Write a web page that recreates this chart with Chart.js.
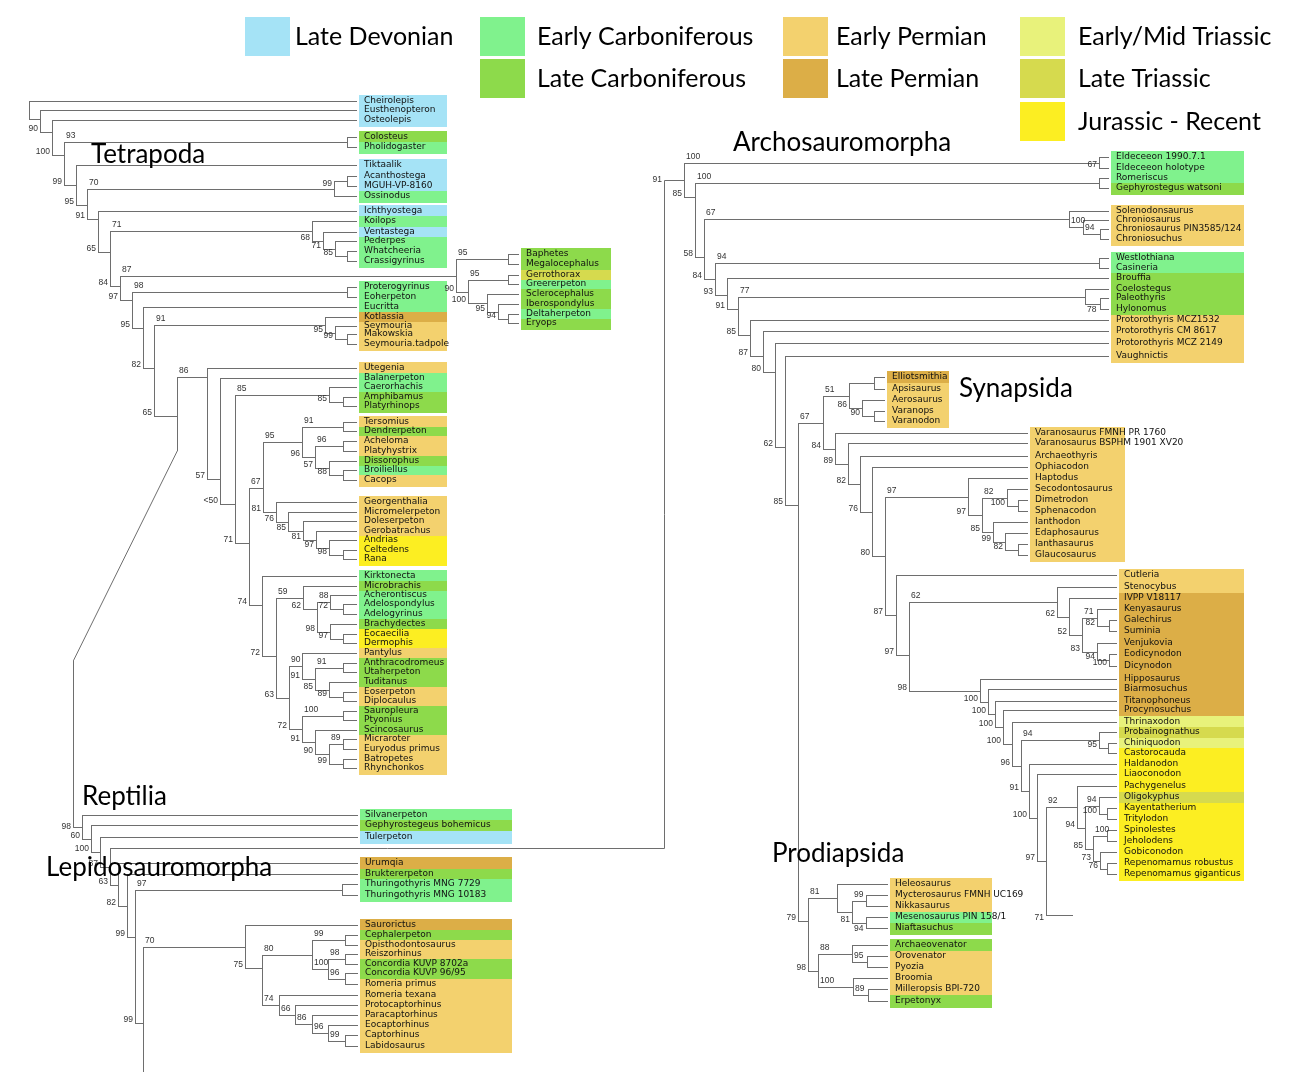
<!DOCTYPE html>
<html><head><meta charset="utf-8">
<script src="https://cdn.jsdelivr.net/npm/chart.js@4.4.1/dist/chart.umd.min.js"></script>
<style>html,body{margin:0;padding:0;background:#fff;overflow:hidden}#wrap{position:relative;width:1296px;height:1072px}</style>
</head><body><div id="wrap"><canvas id="c"></canvas></div>
<script>
// ---------- categories (geological periods) ----------
const PERIOD_KEYS = ['LD','EC','LC','EP','LP','EMT','LT','JR'];
const PERIOD_NAMES = ['Late Devonian','Early Carboniferous','Late Carboniferous','Early Permian','Late Permian','Early/Mid Triassic','Late Triassic','Jurassic - Recent'];
const PERIOD_COLORS = ['#a5e3f6','#80f28d','#8dda4b','#f3d16e','#dcae47','#e8f27b','#d6da4e','#fcee22'];

// ---------- taxa: [name, period, row] ----------
const LEFT_TAXA = [
['Cheirolepis','LD',101],['Eusthenopteron','LD',110],['Osteolepis','LD',120],
['Colosteus','LC',137],['Pholidogaster','EC',147],
['Tiktaalik','LD',165],['Acanthostega','LD',176],['MGUH-VP-8160','LD',186],['Ossinodus','EC',196],
['Ichthyostega','LD',211],['Koilops','EC',221],['Ventastega','LD',232],['Pederpes','EC',241],['Whatcheeria','EC',251],['Crassigyrinus','EC',261],
['Proterogyrinus','EC',287],['Eoherpeton','EC',297],['Eucritta','EC',307],['Kotlassia','LP',317],['Seymouria','EP',326],['Makowskia','EP',334],['Seymouria.tadpole','EP',344],
['Utegenia','EP',368],['Balanerpeton','EC',378],['Caerorhachis','EC',387],['Amphibamus','LC',397],['Platyrhinops','LC',406],
['Tersomius','EP',422],['Dendrerpeton','LC',431],['Acheloma','EP',441],['Platyhystrix','EP',451],['Dissorophus','LC',461],['Broiliellus','EC',470],['Cacops','EP',480],
['Georgenthalia','EP',502],['Micromelerpeton','EP',512],['Doleserpeton','EP',521],['Gerobatrachus','EP',531],['Andrias','JR',540],['Celtedens','JR',550],['Rana','JR',559],
['Kirktonecta','EC',576],['Microbrachis','LC',586],['Acherontiscus','EC',595],['Adelospondylus','EC',604],['Adelogyrinus','EC',614],['Brachydectes','LC',624],['Eocaecilia','JR',634],['Dermophis','JR',643],
['Pantylus','EP',653],['Anthracodromeus','LC',663],['Utaherpeton','LC',672],['Tuditanus','LC',682],['Eoserpeton','EP',692],['Diplocaulus','EP',701],
['Sauropleura','LC',711],['Ptyonius','LC',720],['Scincosaurus','LC',730],['Micraroter','EP',739],['Euryodus primus','EP',749],['Batropetes','EP',759],['Rhynchonkos','EP',768]
];
const BAPH_TAXA = [['Baphetes','LC',254],['Megalocephalus','LC',264],['Gerrothorax','LT',275],['Greererpeton','EC',284],['Sclerocephalus','LC',294],['Iberospondylus','LC',304],['Deltaherpeton','EC',314],['Eryops','LC',323]];
const LEPI_TAXA = [
['Silvanerpeton','EC',815],['Gephyrostegeus bohemicus','LC',825],['Tulerpeton','LD',837],
['Urumqia','LP',863],['Bruktererpeton','LC',874],['Thuringothyris MNG 7729','EC',884],['Thuringothyris MNG 10183','EC',895],
['Saurorictus','LP',925],['Cephalerpeton','LC',935],['Opisthodontosaurus','EP',945],['Reiszorhinus','EP',954],['Concordia KUVP 8702a','LC',964],['Concordia KUVP 96/95','LC',973],['Romeria primus','EP',984],['Romeria texana','EP',995],['Protocaptorhinus','EP',1005],['Paracaptorhinus','EP',1015],['Eocaptorhinus','EP',1025],['Captorhinus','EP',1035],['Labidosaurus','EP',1046]
];
const ARCHO_TAXA = [
['Eldeceeon 1990.7.1','EC',157],['Eldeceeon holotype','EC',168],['Romeriscus','EC',178],['Gephyrostegus watsoni','LC',188],
['Solenodonsaurus','EP',211],['Chroniosaurus','EP',220],['Chroniosaurus PIN3585/124','EP',229],['Chroniosuchus','EP',239],
['Westlothiana','EC',258],['Casineria','EC',268],['Brouffia','LC',278],['Coelostegus','LC',289],['Paleothyris','LC',298],['Hylonomus','LC',309],['Protorothyris MCZ1532','EP',320],['Protorothyris CM 8617','EP',331],['Protorothyris MCZ 2149','EP',343],['Vaughnictis','EP',356]
];
const VARAN_TAXA = [['Elliotsmithia','LP',377],['Apsisaurus','EP',389],['Aerosaurus','EP',400],['Varanops','EP',411],['Varanodon','EP',421]];
const OPHI_TAXA = [['Varanosaurus FMNH PR 1760','EP',433],['Varanosaurus BSPHM 1901 XV20','EP',443],['Archaeothyris','EP',456],['Ophiacodon','EP',467],['Haptodus','EP',478],['Secodontosaurus','EP',489],['Dimetrodon','EP',500],['Sphenacodon','EP',511],['Ianthodon','EP',522],['Edaphosaurus','EP',533],['Ianthasaurus','EP',544],['Glaucosaurus','EP',555]];
const THER_TAXA = [
['Cutleria','EP',575],['Stenocybus','EP',587],['IVPP V18117','LP',598],['Kenyasaurus','LP',609],['Galechirus','LP',620],['Suminia','LP',631],['Venjukovia','LP',643],['Eodicynodon','LP',654],['Dicynodon','LP',666],
['Hipposaurus','LP',679],['Biarmosuchus','LP',689],['Titanophoneus','LP',701],['Procynosuchus','LP',710],['Thrinaxodon','EMT',722],['Probainognathus','LT',732],['Chiniquodon','EMT',743],['Castorocauda','JR',753],
['Haldanodon','JR',764],['Liaoconodon','JR',774],['Pachygenelus','JR',786],['Oligokyphus','LT',797],['Kayentatherium','JR',808],['Tritylodon','JR',819],['Spinolestes','JR',830],['Jeholodens','JR',841],['Gobiconodon','JR',852],['Repenomamus robustus','JR',863],['Repenomamus giganticus','JR',874]
];
const PROD_TAXA = [['Heleosaurus','EP',884],['Mycterosaurus FMNH UC169','EP',895],['Nikkasaurus','EP',906],['Mesenosaurus PIN 158/1','EC',917],['Niaftasuchus','LC',928],['Archaeovenator','LC',945],['Orovenator','EP',956],['Pyozia','EP',967],['Broomia','EP',978],['Milleropsis BPI-720','EP',989],['Erpetonyx','LC',1001]];
const BARE_TIPS = [['unnamed tip',915],['cut-off clade',1090]];

// ---------- clade titles ----------
const CLADE_TITLES = ['Tetrapoda','Archosauromorpha','Synapsida','Reptilia','Lepidosauromorpha','Prodiapsida'];

// ---------- tree (node depth, support labels, children) ----------
function n(x, lab, ...c){ return {x, lab, c}; }
function ny(x, y, lab, ...c){ return {x, y, lab, c}; }
function via(node, at, bends){ node.at = at; node.bends = bends; return node; }

const KOIL = n(312,'b71 l68','Koilops', n(323,'l71','Ventastega', n(335,'l85','Pederpes', n(347,'','Whatcheeria','Crassigyrinus'))));
const BAPH = n(456,'b87 l90', n(508,'b95','Baphetes','Megalocephalus'), n(468,'l100', n(508,'b95','Gerrothorax','Greererpeton'), n(487,'l95','Sclerocephalus', n(498,'l94','Iberospondylus', n(508,'','Deltaherpeton','Eryops')))));
const KOTL = n(325,'b91 l95','Kotlassia', n(335,'l99','Seymouria', n(347,'','Makowskia','Seymouria.tadpole')));
const DISS = n(302,'b95 l96', n(343,'b91','Tersomius','Dendrerpeton'), n(315,'l57', n(343,'b96','Acheloma','Platyhystrix'), n(329,'l88','Dissorophus', n(343,'','Broiliellus','Cacops'))));
const LISS = n(276,'l76','Georgenthalia', n(288,'l85','Micromelerpeton', n(303,'l81','Doleserpeton', n(316,'l97','Gerobatrachus', n(329,'l98','Andrias', n(343,'','Celtedens','Rana'))))));
const MICRO = n(303,'b59 l62','Microbrachis', ny(317,609,'l98', n(330,'b88 l72','Acherontiscus', n(343,'','Adelospondylus','Adelogyrinus')), n(330,'l97','Brachydectes', n(343,'','Eocaecilia','Dermophis'))));
const RECUM = n(289,'l72',
  n(302,'b90 l91','Pantylus', n(315,'l85', n(343,'b91','Anthracodromeus','Utaherpeton'), n(329,'l89','Tuditanus', n(343,'','Eoserpeton','Diplocaulus')))),
  n(302,'l91', n(343,'b100','Sauropleura','Ptyonius'), n(315,'l90','Scincosaurus', n(329,'l99', n(343,'b89','Micraroter','Euryodus primus'), n(343,'','Batropetes','Rhynchonkos')))));
const LEPO = ny(262,605,'l72','Kirktonecta', ny(276,656,'l63', MICRO, RECUM));
const TEMNO = ny(207,377,'b86 l57','Utegenia',
  ny(220,479,'l<50','Balanerpeton',
   ny(235,504,'l71', n(329,'b85 l85','Caerorhachis', n(343,'','Amphibamus','Platyrhinops')),
    ny(249,543,'l74', ny(263,488,'b67 l81', DISS, LISS), LEPO))));
const CAPT = n(245,'b70 l75','Saurorictus',
  ny(262,968,'',
   n(312,'b80', n(345,'b99','Cephalerpeton','Opisthodontosaurus'),
     n(328,'b100', n(345,'b98','Reiszorhinus','Concordia KUVP 8702a'), n(345,'b96','Concordia KUVP 96/95','Romeria primus'))),
   n(279,'b74','Romeria texana', n(295,'b66','Protocaptorhinus', n(312,'b86','Paracaptorhinus', n(328,'b96','Eocaptorhinus', n(345,'b99','Captorhinus','Labidosaurus')))))));
const TH1 = n(1057,'b62 l62','Stenocybus', n(1069,'l52','IVPP V18117', n(1082,'l83', n(1097,'b71 l82','Kenyasaurus', n(1109,'','Galechirus','Suminia')), n(1097,'l94','Venjukovia', n(1109,'l100','Eodicynodon','Dicynodon')))));
const MAMM = n(1046,'', n(1077,'b92 l94','Pachygenelus', n(1085,'l85', n(1099,'b94 l100','Oligokyphus', n(1107,'','Kayentatherium','Tritylodon')), n(1093,'l73', n(1107,'b100','Spinolestes','Jeholodens'), n(1100,'l76','Gobiconodon', n(1107,'','Repenomamus robustus','Repenomamus giganticus'))))), {leaf:'unnamed tip', lab:'k71'});
const TH2 = n(980,'l100','Hipposaurus', n(988,'l100','Biarmosuchus', n(995,'l100','Titanophoneus', n(1003,'l100','Procynosuchus', n(1012,'l96','Thrinaxodon', n(1021,'l91', n(1099,'b94 l95','Probainognathus', n(1108,'','Chiniquodon','Castorocauda')), n(1029,'l100','Haldanodon', n(1037,'l97','Liaoconodon', MAMM))))))));
const SPHEN = n(968,'b97 l97','Haptodus', n(982,'l85', n(1007,'b82 l100','Secodontosaurus', n(1018,'','Dimetrodon','Sphenacodon')), n(993,'l99','Ianthodon', n(1005,'l82','Edaphosaurus', n(1018,'','Ianthasaurus','Glaucosaurus')))));
const SYN = n(823,'b67 l84',
  n(849,'b51 l86', n(874,'','Elliotsmithia','Apsisaurus'), n(862,'l90','Aerosaurus', n(874,'','Varanops','Varanodon'))),
  n(835,'l89','Varanosaurus FMNH PR 1760', n(848,'l82','Varanosaurus BSPHM 1901 XV20', n(860,'l76','Archaeothyris', n(872,'l80','Ophiacodon', n(885,'l87', SPHEN, n(896,'l97','Cutleria', ny(909,655,'l98', TH1, TH2))))))));
const PROD = ny(808,921,'l98',
  n(837,'b81','Heleosaurus', n(852,'l81', n(866,'b99','Mycterosaurus FMNH UC169','Nikkasaurus'), n(866,'u94','Mesenosaurus PIN 158/1','Niaftasuchus'))),
  n(818,'', n(852,'b88','Archaeovenator', n(867,'b95','Orovenator','Pyozia')), n(853,'b100','Broomia', n(868,'b89','Milleropsis BPI-720','Erpetonyx'))));
const ARCHO = via(
  ny(684,180,'v91 l85', n(1099,'b100 l67','Eldeceeon 1990.7.1','Eldeceeon holotype'),
   ny(695,197,'l58', n(1099,'b100','Romeriscus','Gephyrostegus watsoni'),
    ny(704,257,'l84', n(1069,'b67','Solenodonsaurus', n(1083,'b100','Chroniosaurus', n(1100,'b94','Chroniosaurus PIN3585/124','Chroniosuchus'))),
     ny(715,279,'l93', n(1099,'b94','Westlothiana','Casineria'),
      ny(727,295,'l91','Brouffia',
       ny(738,309,'l85', n(1085,'b77','Coelostegus', n(1100,'u78','Paleothyris','Hylonomus')),
        ny(750,335,'l87','Protorothyris MCZ1532',
         ny(763,356,'l80','Protorothyris CM 8617',
          ny(775,372,'l62','Protorothyris MCZ 2149',
           ny(785,447,'l85','Vaughnictis',
            ny(798,505,'l79', SYN, PROD))))))))))),
  848, [[664,848]]);
const AMNIOTA = via(
  n(82,'l60 v98','Silvanerpeton',
   n(91,'l100','Gephyrostegeus bohemicus',
    n(100,'l87','Tulerpeton',
     n(110,'l63', ARCHO,
      n(118,'l82','Urumqia',
       n(127,'l99','Bruktererpeton',
        ny(135,937,'l99', n(342,'b97','Thuringothyris MNG 7729','Thuringothyris MNG 10183'),
         ny(143,1023,'', CAPT, 'cut-off clade')))))))),
  450, [[73,660]]);
const LEFT_TREE = n(29,'','Cheirolepis',
  ny(40,119,'l90','Eusthenopteron',
   ny(52,132,'l100','Osteolepis',
    ny(64,155,'l99', n(347,'b93','Colosteus','Pholidogaster'),
     ny(76,185,'l95','Tiktaalik',
      ny(87,205,'l91', n(334,'b70', n(347,'k99','Acanthostega','MGUH-VP-8160'), 'Ossinodus'),
       ny(98,219,'l65','Ichthyostega',
        ny(110,252,'l84', KOIL,
         ny(120,286,'l97', BAPH,
          ny(132,300,'l95', n(347,'b98','Proterogyrinus','Eoherpeton'),
           ny(143,328,'l82','Eucritta',
            ny(154,368,'l65', KOTL,
             ny(177,416,'', TEMNO, AMNIOTA)))))))))))));

// ---------- layout (positions/styles, not data) ----------
const GROUP_LAYOUT = {
  left:{box:[359,447]}, baph:{box:[521,611]}, lepi:{box:[360,512]}, archo:{box:[1111,1244]},
  varan:{box:[887,949]}, ophi:{box:[1030,1125]}, ther:{box:[1119,1244]}, prod:{box:[890,992]}, bare:{tip:1072}
};
const TITLE_LAYOUT = {Tetrapoda:[91,163], Archosauromorpha:[733,151], Synapsida:[959,397], Reptilia:[82,805], Lepidosauromorpha:[46,876], Prodiapsida:[772,862]};
const LEGEND_LAYOUT = {cols:[245,480,783,1020], rows:[17,59,102], textDx:[50,57,53,58], w:45, h:39,
  slot:{LD:[0,0],EC:[1,0],LC:[1,1],EP:[2,0],LP:[2,1],EMT:[3,0],LT:[3,1],JR:[3,2]}};

// ---------- build ----------
const GROUPS = {left:LEFT_TAXA, baph:BAPH_TAXA, lepi:LEPI_TAXA, archo:ARCHO_TAXA, varan:VARAN_TAXA, ophi:OPHI_TAXA, ther:THER_TAXA, prod:PROD_TAXA};
const TAXA = {};
Object.entries(GROUPS).forEach(([g,arr]) => arr.forEach(([name,p,y]) => TAXA[name] = {name,p,y,g}));
BARE_TIPS.forEach(([name,y]) => TAXA[name] = {name,p:null,y,g:'bare',hidden:true});
const COLOR = {}; PERIOD_KEYS.forEach((k,i) => COLOR[k] = PERIOD_COLORS[i]);

const isLeaf = c => typeof c === 'string' || c.leaf !== undefined;
const leafName = c => typeof c === 'string' ? c : c.leaf;
function Y(c){ if (isLeaf(c)) return TAXA[leafName(c)].y; if (c.y == null) c.y = Math.round((att(c.c[0]) + att(c.c[c.c.length-1]))/2); return c.y; }
function att(c){ return (!isLeaf(c) && c.at != null) ? c.at : Y(c); }
function tipX(t){ const L = GROUP_LAYOUT[t.g]; return L.tip != null ? L.tip : L.box[0]-3; }

const SEGS = [], LABELS = [];
function addLabels(lab, node, parent){
  if (!lab) return;
  lab.split(' ').forEach(tok => {
    const m = tok[0], txt = tok.slice(1); const yy = Y(node); let x, y, align;
    if (m === 'l'){ x = node.x-2; y = att(node.c[node.c.length-1])-3; align='right'; }
    else if (m === 'b'){ x = parent.x+2; y = yy-6; align='left'; }
    else if (m === 'u'){ x = parent.x+2; y = yy+6; align='left'; }
    else if (m === 'k'){ x = parent.x-2; y = yy+3; align='right'; }
    else if (m === 'v'){ const b = node.bends[node.bends.length-1]; x = b[0]-2; y = yy; align='right'; }
    LABELS.push({txt,x,y,align});
  });
}
function walk(node, parent){
  addLabels(node.lab, node, parent);
  const ys = node.c.map(att);
  SEGS.push([[node.x, ys[0]],[node.x, ys[ys.length-1]]]);
  node.c.forEach(ch => {
    if (isLeaf(ch)){ const t = TAXA[leafName(ch)]; SEGS.push([[node.x,t.y],[tipX(t),t.y]]); if (ch.lab) addLabels(ch.lab, ch, node); }
    else {
      const yy = Y(ch); let pts;
      if (ch.at != null){ pts = [[node.x, ch.at], ...ch.bends]; const lb = ch.bends[ch.bends.length-1]; pts.push([lb[0], yy],[ch.x, yy]); }
      else pts = [[node.x, yy],[ch.x, yy]];
      SEGS.push(pts); walk(ch, node);
    }
  });
}
walk(LEFT_TREE, null);
const edgeData = [];
SEGS.forEach(s => { s.forEach(([x,y]) => edgeData.push({x,y})); edgeData.push({x:NaN,y:NaN}); });

// ---------- drawing plugin ----------
const treePlugin = {
  id:'tree',
  beforeDatasetsDraw(chart){
    const ctx = chart.ctx, sx = chart.scales.x, sy = chart.scales.y;
    Object.entries(GROUPS).forEach(([g, rows]) => {
      const L = GROUP_LAYOUT[g];
      const s = rows.slice().sort((a,b) => a[2]-b[2]);
      s.forEach((r,i) => {
        const y = r[2], pv = s[i-1], nx = s[i+1];
        const top = pv && y-pv[2] < 14.5 ? (y+pv[2])/2 : y-6.5;
        const bot = nx && nx[2]-y < 14.5 ? (y+nx[2])/2 : y+6.5;
        const x0 = Math.round(sx.getPixelForValue(L.box[0])), x1 = Math.round(sx.getPixelForValue(L.box[1]));
        const y0 = Math.round(sy.getPixelForValue(top)), y1 = Math.round(sy.getPixelForValue(bot));
        ctx.fillStyle = COLOR[r[1]]; ctx.fillRect(x0, y0, x1-x0, y1-y0);
      });
    });
    ctx.save(); ctx.translate(0.5, 0.5);
  },
  afterDatasetsDraw(chart){
    const ctx = chart.ctx, sx = chart.scales.x, sy = chart.scales.y;
    ctx.restore();
    ctx.save();
    // taxon names
    ctx.font = '9px "DejaVu Sans"'; ctx.fillStyle = '#111'; ctx.textBaseline = 'middle'; ctx.textAlign = 'left';
    Object.values(TAXA).forEach(t => { if (t.hidden) return; const L = GROUP_LAYOUT[t.g];
      ctx.fillText(t.name, sx.getPixelForValue(L.box[0]+5), sy.getPixelForValue(t.y)); });
    // support values
    ctx.font = '8.5px "Liberation Sans"'; ctx.fillStyle = '#333';
    LABELS.forEach(l => { ctx.textAlign = l.align; ctx.fillText(l.txt, sx.getPixelForValue(l.x), sy.getPixelForValue(l.y)); });
    // clade titles
    ctx.font = '26px Lato'; ctx.fillStyle = '#000'; ctx.textAlign = 'left'; ctx.textBaseline = 'alphabetic';
    CLADE_TITLES.forEach(name => { const p = TITLE_LAYOUT[name]; ctx.fillText(name, sx.getPixelForValue(p[0]), sy.getPixelForValue(p[1])); });
    // legend
    const LG = LEGEND_LAYOUT; ctx.font = '25px Lato'; ctx.textBaseline = 'middle';
    PERIOD_KEYS.forEach((k,i) => { const [c,r] = LG.slot[k]; const x = LG.cols[c], y = LG.rows[r];
      const x0 = sx.getPixelForValue(x), y0 = sy.getPixelForValue(y);
      ctx.fillStyle = PERIOD_COLORS[i]; ctx.fillRect(x0, y0, LG.w, LG.h);
      ctx.fillStyle = '#000'; ctx.fillText(PERIOD_NAMES[i], sx.getPixelForValue(x+LG.textDx[c]), sy.getPixelForValue(y+LG.h/2)); });
    ctx.restore();
  }
};

new Chart(document.getElementById('c'), {
  type:'scatter',
  data:{ datasets:[{ data:edgeData, showLine:true, borderColor:'#6e6e6e', borderWidth:1, pointRadius:0, pointHoverRadius:0, spanGaps:false, borderCapStyle:'square', borderJoinStyle:'miter', tension:0 }] },
  options:{ responsive:true, maintainAspectRatio:false, animation:false, events:[], layout:{padding:0},
    scales:{ x:{type:'linear', min:0, max:1296, bounds:'data', display:false}, y:{type:'linear', min:0, max:1072, reverse:true, bounds:'data', display:false} },
    plugins:{ legend:{display:false}, tooltip:{enabled:false} } },
  plugins:[treePlugin]
});
</script></body></html>
